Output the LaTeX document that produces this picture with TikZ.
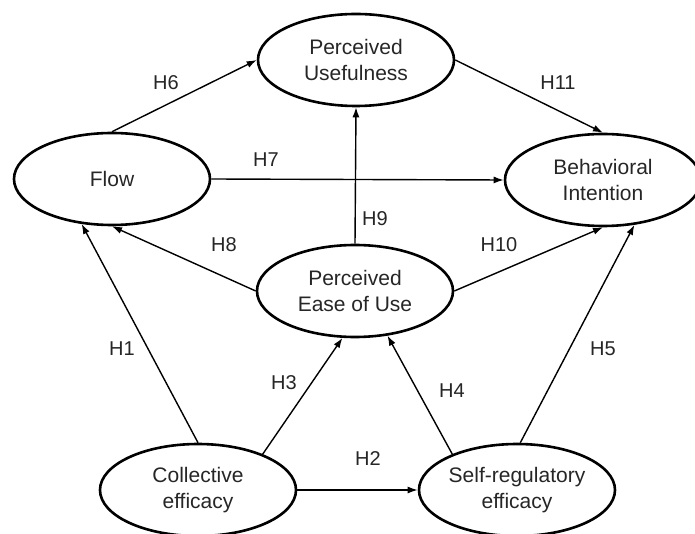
\documentclass[tikz,border=0pt]{standalone}
\usepackage{fontspec}
\setmainfont{Liberation Sans}
\usetikzlibrary{shapes.geometric,arrows.meta}
\begin{document}
\begin{tikzpicture}[x=1pt,y=-1pt,
  construct/.style={ellipse,draw=black,line width=2.6pt,minimum width=196pt,minimum height=92pt,inner sep=0pt,align=center,font=\fontsize{21}{26}\selectfont,text=black!85},
  hyp/.style={font=\fontsize{20}{24}\selectfont,text=black!85,inner sep=0pt},
  link/.style={draw=black,line width=1.4pt,-{Latex[length=10pt,width=7pt]}}]
\fill[white] (0,0) rectangle (695,534);
\useasboundingbox (0,0) rectangle (695,534);
\node[construct] (pu) at (356,60) {Perceived\\Usefulness};
\node[construct] (flow) at (112,179) {Flow};
\node[construct] (bi) at (603,180) {Behavioral\\Intention};
\node[construct] (peou) at (355,291) {Perceived\\Ease of Use};
\node[construct] (ce) at (198,490) {Collective\\efficacy};
\node[construct] (sre) at (517,490) {Self-regulatory\\efficacy};
\draw[link] (flow.north) -- (pu.west);
\draw[link] (pu.east) -- (bi.north);
\draw[link] (flow.east) -- (bi.west);
\draw[link] (peou.north) -- (pu.south);
\draw[link] (peou.west) -- (flow.south);
\draw[link] (peou.east) -- (bi.south);
\draw[link] (ce.north) -- (flow.236);
\draw[link] (ce.29) -- (peou.255);
\draw[link] (sre.151) -- (peou.306);
\draw[link] (sre.86) -- (bi.305);
\draw[link] (ce.east) -- (sre.west);
\node[hyp] (h6) at (166,83) {H6};
\node[hyp] (h11) at (558,83) {H11};
\node[hyp] (h7) at (266,160) {H7};
\node[hyp] (h9) at (375,219) {H9};
\node[hyp] (h8) at (224,245) {H8};
\node[hyp] (h10) at (499,245) {H10};
\node[hyp] (h1) at (122,349) {H1};
\node[hyp] (h3) at (284,383) {H3};
\node[hyp] (h4) at (452,391) {H4};
\node[hyp] (h5) at (603,349) {H5};
\node[hyp] (h2) at (368,459) {H2};
\end{tikzpicture}
\end{document}
